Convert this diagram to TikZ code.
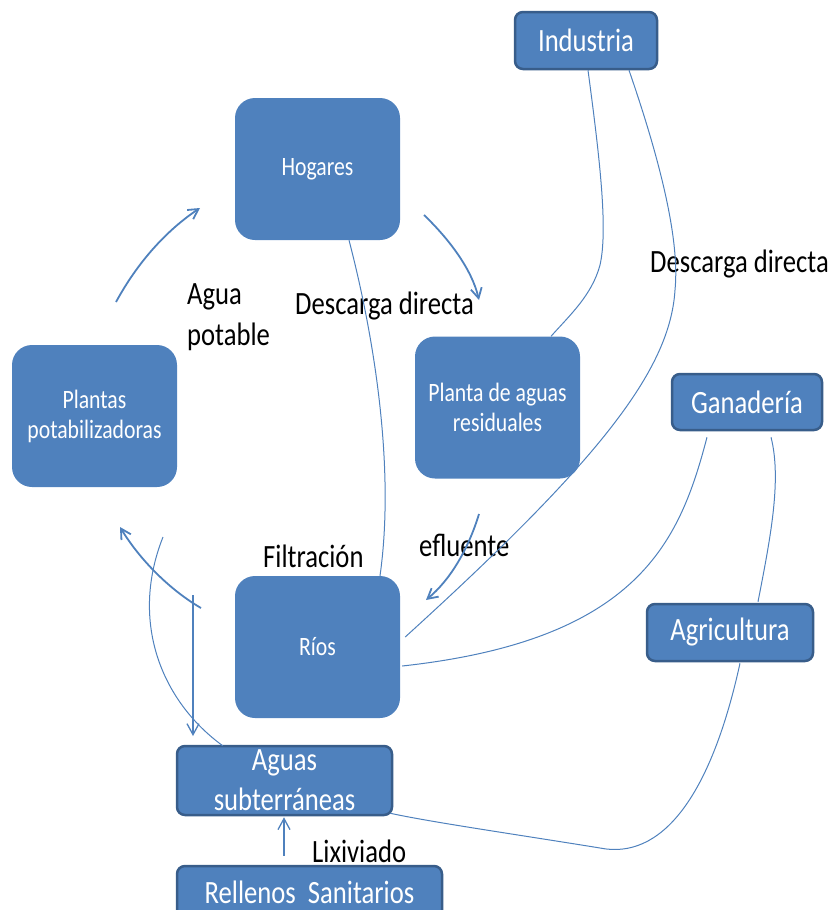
\documentclass[tikz,border=0pt]{standalone}
\usepackage{fontspec}
\setmainfont{Carlito}[FakeStretch=0.82]
\usetikzlibrary{arrows.meta,calc}
\definecolor{boxblue}{HTML}{4F81BD}
\definecolor{boxedge}{HTML}{385D8A}
\begin{document}
\begin{tikzpicture}[x=1pt,y=-1pt,
  bigbox/.style={fill=boxblue, draw=none, rounded corners=20pt, minimum width=165pt, minimum height=142pt,
    text=white, align=center, inner sep=0pt, font=\fontsize{26.5}{30}\selectfont},
  smallbox/.style={fill=boxblue, draw=boxedge, line width=2.5pt, rounded corners=8pt,
    text=white, align=center, inner sep=0pt, font=\fontsize{32.5}{40}\selectfont},
  lbl/.style={text=black, inner sep=0pt, align=left, font=\fontsize{32.5}{41}\selectfont},
  conn/.style={draw=boxblue, line width=1pt},
  flow/.style={draw=boxblue, line width=1.8pt, -{Straight Barb[length=10pt,width=11pt]}},
  thinflow/.style={draw=boxblue, line width=1.3pt, -{Straight Barb[length=11pt,width=12pt]}}
]
\useasboundingbox (0,0) rectangle (832,910);

% big boxes
\node[bigbox] (hog) at (317.5,169) {Hogares};
\node[bigbox] (pla) at (497.5,407.5) {Planta de aguas\\residuales};
\node[bigbox] (pot) at (94.5,416) {Plantas\\potabilizadoras};
\node[bigbox] (rio) at (317.5,647) {Ríos};

% small boxes
\node[smallbox, minimum width=142pt, minimum height=57pt] (ind) at (586,40.5) {Industria};
\node[smallbox, minimum width=150pt, minimum height=56pt] (gan) at (747,402) {Ganadería};
\node[smallbox, minimum width=166pt, minimum height=57pt] (agr) at (730,632.5) {Agricultura};
\node[smallbox, minimum width=215pt, minimum height=69pt] (sub) at (284.5,780.5) {Aguas\\subterráneas};
\node[smallbox, minimum width=265pt, minimum height=52pt] (rel) at (309.5,892) {Rellenos\ \ Sanitarios};

% labels
\node[lbl, anchor=north west] (lagua) at (187,283.5) {Agua\\potable};
\node[lbl, anchor=base west] (ldes1) at (295,314) {Descarga directa};
\node[lbl, anchor=base west] (ldes2) at (650,272) {Descarga directa};
\node[lbl, anchor=base west] (lefl) at (419,556) {efluente};
\node[lbl, anchor=base west] (lfil) at (263,567) {Filtración};
\node[lbl, anchor=base west] (llix) at (312,862) {Lixiviado};

% thin connectors
\draw[conn] ($(hog.south)+(31.5,0)$) .. controls (375,340) and (395,470) .. ($(rio.north)+(62.5,0)$);
\draw[conn] ($(ind.south)+(2,0)$) .. controls (600,160) and (608,230) .. (600,265)
   .. controls (592,295) and (570,315) .. ($(pla.north)+(53.5,0)$);
\draw[conn] ($(ind.south)+(43,0)$) .. controls (660,160) and (680,240) .. (675,290)
   .. controls (670,370) and (600,460) .. ($(rio.east)+(5,-10)$);
\draw[conn] ($(gan.south)+(-40,6)$) .. controls (680,540) and (640,640) .. ($(rio.east)+(2,19)$);
\draw[conn] ($(gan.south)+(24,6)$) .. controls (782,480) and (770,540) .. ($(agr.north)+(28,-1)$);
\draw[conn] ($(agr.south)+(10,1)$) .. controls (710,800) and (660,860) .. (600,848)
   .. controls (520,835) and (430,822) .. ($(sub.south east)+(-3,-3)$);
\coordinate (gend) at (163,537);
\draw[conn] ($(sub.north west)+(47,1)$) .. controls (160,700) and (130,620) .. (gend);

% flow arrows
\coordinate (f1s) at (116,302);
\coordinate (f1e) at (200,208);
\draw[flow] (f1s) .. controls (140,258) and (170,228) .. (f1e);
\coordinate (f2s) at (424,215);
\coordinate (f2e) at (479,300);
\draw[flow] (f2s) .. controls (450,240) and (472,270) .. (f2e);
\coordinate (f3s) at (479,514);
\coordinate (f3e) at (426,600);
\draw[flow] (f3s) .. controls (468,550) and (450,580) .. (f3e);
\coordinate (f4s) at (201,608);
\coordinate (f4e) at (120,527);
\draw[flow] (f4s) .. controls (170,590) and (140,560) .. (f4e);
\coordinate (f5s) at (193,595);
\coordinate (f5e) at (193,736);
\draw[thinflow] (f5s) -- (f5e);
\draw[thinflow] ($(rel.north)+(-25.5,-9)$) -- ($(sub.south)+(-0.5,1)$);
\end{tikzpicture}
\end{document}
